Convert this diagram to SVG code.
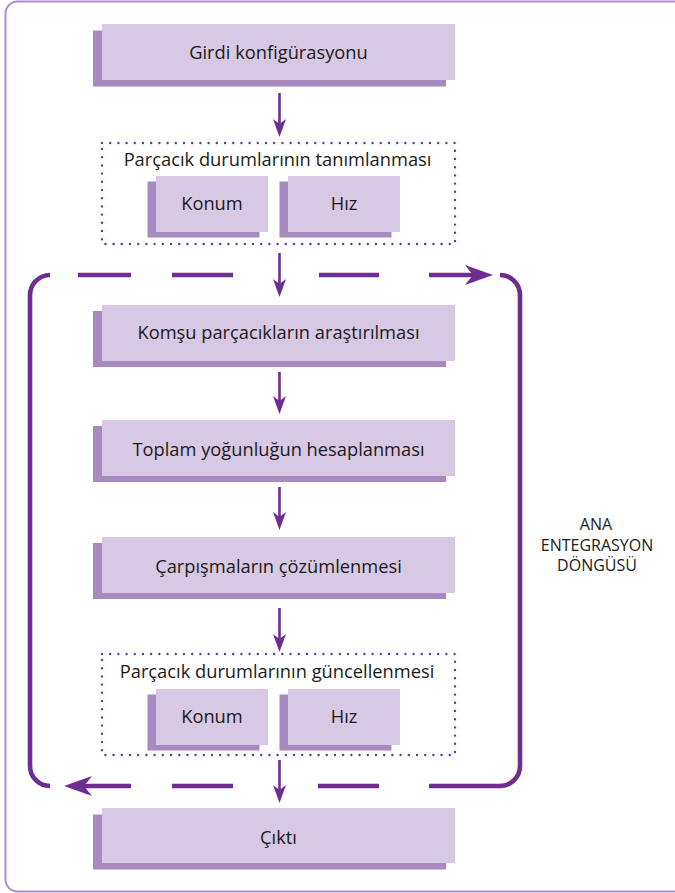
<svg xmlns="http://www.w3.org/2000/svg" width="675" height="893" viewBox="0 0 675 893">
<style>
.front{fill:#d7c8e3}
.shadow{fill:#a78ac0}
.dotted{fill:none;stroke:#7030a0;stroke-width:2.4;stroke-dasharray:0 8.2;stroke-linecap:round}
.conn{fill:none;stroke:#6f2c91;stroke-width:2.6}
.loop{fill:none;stroke:#6f2c91;stroke-width:4.6}
.t{font-family:"Open Sans","Noto Sans",sans-serif;font-size:18.3px;fill:#1c1a1b;text-anchor:middle}
.lbl{font-family:"Open Sans","Noto Sans",sans-serif;font-size:16px;fill:#1c1a1b;text-anchor:middle}
</style>
<defs>
<marker id="ah" markerUnits="userSpaceOnUse" viewBox="0 0 18 13" markerWidth="18" markerHeight="13" refX="8" refY="6.5" orient="auto">
<path d="M0,0 L18,6.5 L0,13 L5,6.5 Z" fill="#6f2c91"/>
</marker>
<marker id="bh" markerUnits="userSpaceOnUse" viewBox="0 0 28 20" markerWidth="28" markerHeight="20" refX="8" refY="10" orient="auto">
<path d="M0,0 L28,10 L0,20 L8,10 Z" fill="#6f2c91"/>
</marker>
</defs>
<rect x="5.5" y="1.5" width="690" height="890" rx="12" fill="none" stroke="#ad8fcb" stroke-width="2"/>

<g id="loop">
<path class="loop" d="M50,275 A20,20 0 0 0 30,295 L30,766 A20,20 0 0 0 50,786"/>
<path class="loop" d="M500,275 A20,20 0 0 1 520,295 L520,766 A20,20 0 0 1 500,786 L429,786"/>
<path class="loop" d="M78,275 H131 M172,275 H233 M319,275 H379"/>
<path class="loop" d="M429,275 H473" marker-end="url(#bh)"/>
<path class="loop" d="M172,786 H233 M318,786 H379"/>
<path class="loop" d="M131,786 H84" marker-end="url(#bh)"/>
</g>

<g id="connectors">
<path class="conn" d="M279.5,93 V127" marker-end="url(#ah)"/>
<path class="conn" d="M279.5,253 V287" marker-end="url(#ah)"/>
<path class="conn" d="M279.5,372 V404" marker-end="url(#ah)"/>
<path class="conn" d="M279.5,487 V520" marker-end="url(#ah)"/>
<path class="conn" d="M279.5,608 V642" marker-end="url(#ah)"/>
<path class="conn" d="M279.5,760 V793" marker-end="url(#ah)"/>
</g>

<g id="girdi">
<rect class="shadow" x="93" y="30.5" width="353" height="56"/>
<rect class="front" x="102" y="24" width="353" height="56"/>
<text class="t" x="278.5" y="58.5">Girdi konfigürasyonu</text>
</g>

<g id="tanimlama">
<rect class="dotted" x="102" y="143" width="353" height="101"/>
<text class="t" x="277.5" y="166">Parçacık durumlarının tanımlanması</text>
<g id="konum1">
<rect class="shadow" x="147.5" y="181.5" width="112" height="56"/>
<rect class="front" x="156" y="176" width="112" height="56"/>
<text class="t" x="212" y="210">Konum</text>
</g>
<g id="hiz1">
<rect class="shadow" x="279.5" y="181.5" width="112" height="56"/>
<rect class="front" x="288" y="176" width="112" height="56"/>
<text class="t" x="344" y="210">Hız</text>
</g>
</g>

<g id="komsu">
<rect class="shadow" x="93" y="311" width="353" height="56"/>
<rect class="front" x="102" y="305" width="353" height="56"/>
<text class="t" x="278.5" y="339">Komşu parçacıkların araştırılması</text>
</g>

<g id="toplam">
<rect class="shadow" x="93" y="426" width="353" height="56"/>
<rect class="front" x="102" y="420" width="353" height="56"/>
<text class="t" x="278.5" y="455.5">Toplam yoğunluğun hesaplanması</text>
</g>

<g id="carpisma">
<rect class="shadow" x="93" y="543" width="353" height="56"/>
<rect class="front" x="102" y="537" width="353" height="56"/>
<text class="t" x="278.5" y="572.5">Çarpışmaların çözümlenmesi</text>
</g>

<g id="guncelleme">
<rect class="dotted" x="102" y="654" width="353" height="101"/>
<text class="t" x="277" y="678">Parçacık durumlarının güncellenmesi</text>
<g id="konum2">
<rect class="shadow" x="147.5" y="694.5" width="112" height="56"/>
<rect class="front" x="156" y="689" width="112" height="56"/>
<text class="t" x="212" y="722.5">Konum</text>
</g>
<g id="hiz2">
<rect class="shadow" x="279.5" y="694.5" width="112" height="56"/>
<rect class="front" x="288" y="689" width="112" height="56"/>
<text class="t" x="344" y="722.5">Hız</text>
</g>
</g>

<g id="cikti">
<rect class="shadow" x="93" y="814.5" width="353" height="55"/>
<rect class="front" x="102" y="808" width="353" height="55"/>
<text class="t" x="278.5" y="843.5">Çıktı</text>
</g>

<g id="loop-label">
<text class="lbl" x="596" y="530">ANA</text>
<text class="lbl" x="597" y="550.5">ENTEGRASYON</text>
<text class="lbl" x="597" y="571">DÖNGÜSÜ</text>
</g>
</svg>
